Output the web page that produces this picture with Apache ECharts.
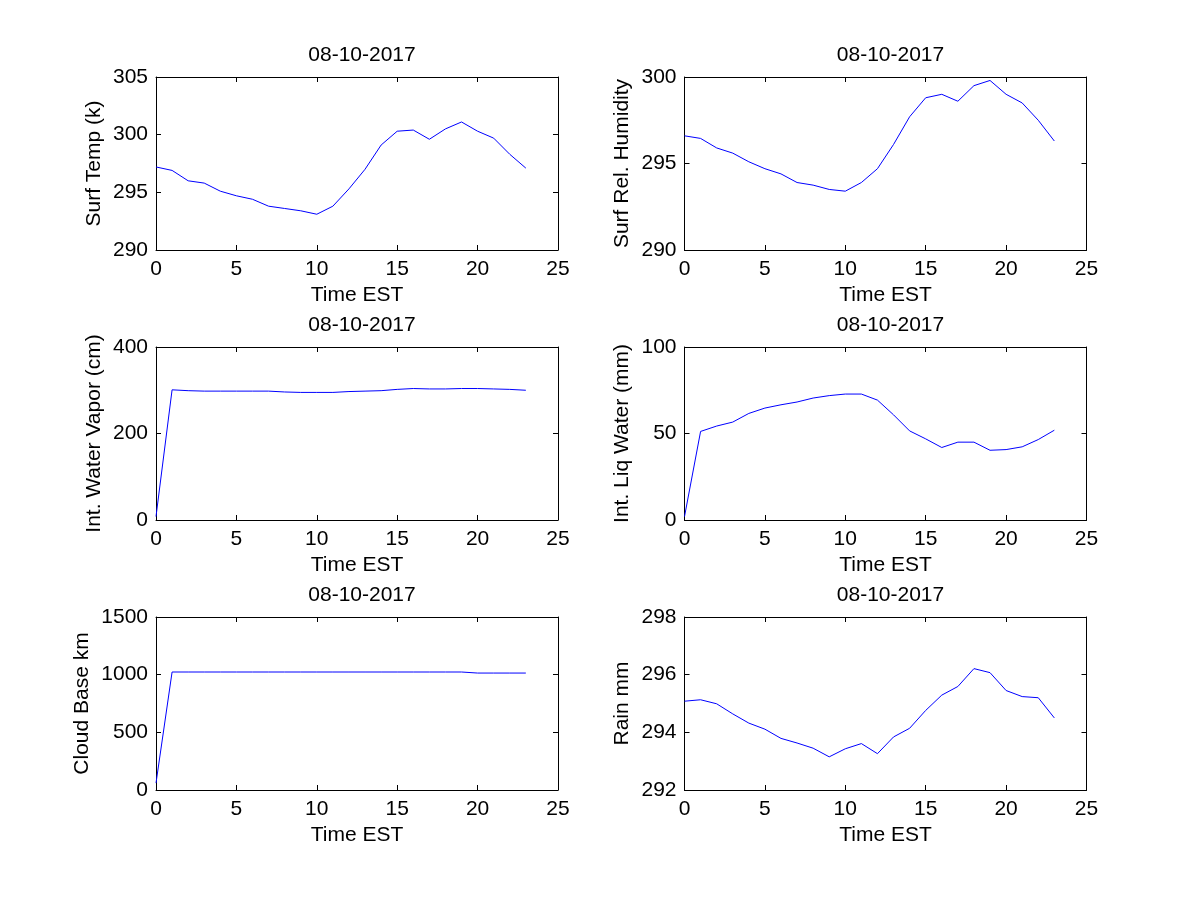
<!DOCTYPE html>
<html>
<head>
<meta charset="utf-8">
<script src="https://cdn.jsdelivr.net/npm/echarts@6/dist/echarts.min.js"></script>
<style>html,body{margin:0;padding:0;background:#fff;}#c{width:1200px;height:900px;}</style>
</head>
<body>
<div id="c"></div>
<script>
const hours = [0,1,2,3,4,5,6,7,8,9,10,11,12,13,14,15,16,17,18,19,20,21,22,23];
const dateTitle = "08-10-2017";
const xLabel = "Time EST";
const surfTemp = [297.2,296.9,296.0,295.8,295.1,294.7,294.4,293.8,293.6,293.4,293.1,293.8,295.3,297.0,299.1,300.3,300.4,299.6,300.5,301.1,300.3,299.7,298.3,297.1];
const surfHumidity = [296.6,296.45,295.9,295.6,295.1,294.7,294.4,293.9,293.75,293.5,293.4,293.9,294.7,296.1,297.7,298.8,299.0,298.6,299.5,299.8,299.0,298.5,297.5,296.3];
const waterVapor = [8,301,299,298,298,298,298,298,296,295,295,295,297,298,299,302,304,303,303,304,304,303,302,300];
const liqWater = [2,51.2,54.3,56.6,61.6,64.7,66.6,68.2,70.5,71.9,72.8,72.8,69.3,60.8,51.5,46.9,41.9,45.0,45.0,40.3,40.7,42.3,46.5,51.9];
const cloudBase = [60,1023,1023,1023,1023,1023,1023,1023,1023,1023,1023,1023,1023,1023,1023,1023,1023,1023,1023,1023,1014,1014,1014,1014];
const rain = [295.08,295.13,294.99,294.64,294.32,294.11,293.79,293.63,293.45,293.15,293.43,293.61,293.26,293.84,294.14,294.76,295.29,295.59,296.21,296.07,295.45,295.24,295.2,294.5];

const panels = [
  {name:"Surf Temp (k)", data:surfTemp, min:290, max:305, interval:5, gap:51},
  {name:"Surf Rel. Humidity", data:surfHumidity, min:290, max:300, interval:5, gap:52},
  {name:"Int. Water Vapor (cm)", data:waterVapor, min:0, max:400, interval:200, gap:51},
  {name:"Int. Liq Water (mm)", data:liqWater, min:0, max:100, interval:50, gap:52},
  {name:"Cloud Base km", data:cloudBase, min:0, max:1500, interval:500, gap:63},
  {name:"Rain mm", data:rain, min:292, max:298, interval:2, gap:52}
];

const FONT = "Liberation Sans";
const FS = 21;
const lefts = [156, 684.5];
const tops = [77, 347, 617];
const W = 402, H = 173;

const grid = [], xAxis = [], yAxis = [], series = [], title = [];
const lineStyle = {color:'#000', width:1};
const plain = v => String(v);
panels.forEach((p, i) => {
  const col = i % 2, row = Math.floor(i / 2);
  grid.push({left:lefts[col], top:tops[row], width:W, height:H, containLabel:false});
  const tick = {show:true, inside:true, length:5, lineStyle:lineStyle};
  xAxis.push({gridIndex:i, type:'value', min:0, max:25, interval:5, position:'bottom',
    name:xLabel, nameLocation:'middle', nameGap:35,
    nameTextStyle:{fontFamily:FONT, fontSize:FS, color:'#000'},
    axisLine:{show:true, onZero:false, lineStyle:lineStyle}, axisTick:tick,
    axisLabel:{fontFamily:FONT, fontSize:FS, color:'#000', margin:9, formatter:plain},
    splitLine:{show:false}});
  xAxis.push({gridIndex:i, type:'value', min:0, max:25, interval:5, position:'top',
    axisLine:{show:true, onZero:false, lineStyle:lineStyle}, axisTick:tick,
    axisLabel:{show:false}, splitLine:{show:false}});
  yAxis.push({gridIndex:i, type:'value', min:p.min, max:p.max, interval:p.interval, position:'left',
    name:p.name, nameLocation:'middle', nameGap:p.gap, nameRotate:90,
    nameTextStyle:{fontFamily:FONT, fontSize:FS, color:'#000'},
    axisLine:{show:true, onZero:false, lineStyle:lineStyle}, axisTick:tick,
    axisLabel:{fontFamily:FONT, fontSize:FS, color:'#000', margin:8, formatter:plain},
    splitLine:{show:false}});
  yAxis.push({gridIndex:i, type:'value', min:p.min, max:p.max, interval:p.interval, position:'right',
    axisLine:{show:true, onZero:false, lineStyle:lineStyle}, axisTick:tick,
    axisLabel:{show:false}, splitLine:{show:false}});
  series.push({type:'line', xAxisIndex:2*i, yAxisIndex:2*i,
    data:hours.map((h, k) => [h, p.data[k]]),
    showSymbol:false, symbol:'none', lineStyle:{color:'#0000ff', width:1}, animation:false});
  title.push({text:dateTitle, left:lefts[col] + W/2, top:tops[row] - 37, textAlign:'center',
    textStyle:{fontFamily:FONT, fontSize:FS, fontWeight:'normal', color:'#000'}});
});

const chart = echarts.init(document.getElementById('c'), null, {renderer:'canvas'});
chart.setOption({backgroundColor:'#fff', animation:false, title, grid, xAxis, yAxis, series});
</script>
</body>
</html>
